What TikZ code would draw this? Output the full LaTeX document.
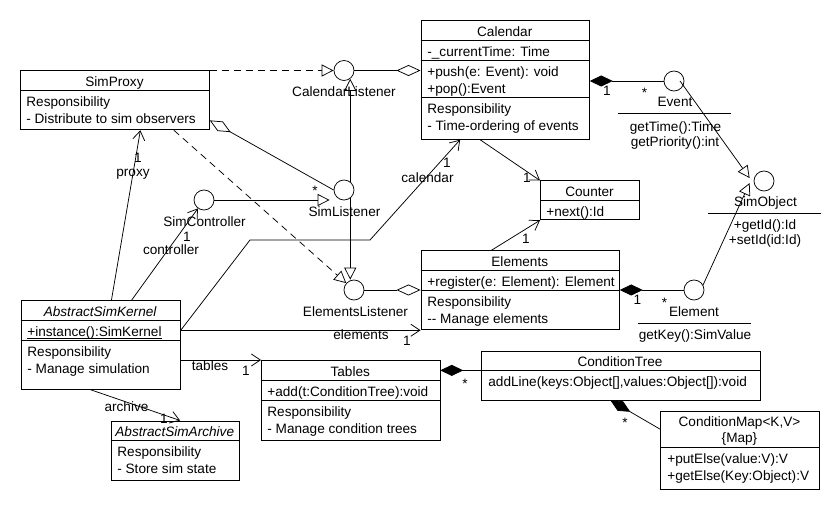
\documentclass[tikz,border=0pt]{standalone}
\usepackage{fontspec}
\setmainfont{Liberation Sans}
\usetikzlibrary{arrows.meta}

\begin{document}
\begin{tikzpicture}[x=1pt, y=-1pt, line width=0.75pt,
    font=\fontsize{13.6}{17}\selectfont,
    clase/.style={draw, rectangle, inner sep=0pt, anchor=north west},
    interfaz/.style={draw, circle, minimum size=20pt, inner sep=0pt},
    txt/.style={inner sep=0pt, anchor=base west},
    tit/.style={inner sep=0pt, anchor=base},
    nav/.style={-{Straight Barb[length=9pt, width=12pt]}},
    gen/.style={-{Triangle[open, length=12pt, width=12pt]}},
    real/.style={gen, dash pattern=on 7pt off 5pt},
    agg/.style={{Diamond[open, length=24pt, width=11pt]}-},
    comp/.style={{Diamond[length=23pt, width=11pt]}-}]
  \useasboundingbox (0,0) rectangle (840,510);
  \fill[white] (0,0) rectangle (840,510);

  % Clases
  \node[clase, minimum width=189pt, minimum height=59pt] (simproxy) at (20,70.5) {};
  \draw (20,90.5) -- (209,90.5);
  \node[tit] (simproxy-t) at (114.5,87) {SimProxy};
  \node[txt] (simproxy-r) at (26,106.5) {Responsibility};
  \node[txt] (simproxy-d) at (26,123.5) {- Distribute to sim observers};

  \node[clase, minimum width=168.5pt, minimum height=118.5pt] (calendar) at (420.5,20.5) {};
  \draw (420.5,40.5) -- (589,40.5) (420.5,60.5) -- (589,60.5) (420.5,97.5) -- (589,97.5);
  \node[tit] (calendar-t) at (504.75,37) {Calendar};
  \node[txt] (calendar-a) at (427,57) {-\_currentTime: Time};
  \node[txt] (calendar-m1) at (427,76.5) {+push(e: Event): void};
  \node[txt] (calendar-m2) at (427,93.5) {+pop():Event};
  \node[txt] (calendar-r) at (427,113.5) {Responsibility};
  \node[txt] (calendar-d) at (427,130.5) {- Time-ordering of events};

  \node[clase, minimum width=99pt, minimum height=39pt] (counter) at (540,180.5) {};
  \draw (540,200.5) -- (639,200.5);
  \node[tit] (counter-t) at (589.5,196.5) {Counter};
  \node[txt] (counter-m) at (546,216.5) {+next():Id};

  \node[clase, minimum width=198.5pt, minimum height=79pt] (elements) at (420.5,250.5) {};
  \draw (420.5,270.5) -- (619,270.5) (420.5,290.5) -- (619,290.5);
  \node[tit] (elements-t) at (519.75,266.5) {Elements};
  \node[txt] (elements-m) at (427,286.5) {+register(e: Element): Element};
  \node[txt] (elements-r) at (427,306.5) {Responsibility};
  \node[txt] (elements-d) at (427,323.5) {-{}- Manage elements};

  \node[clase, minimum width=159.5pt, minimum height=88.5pt] (kernel) at (20.5,300.5) {};
  \draw (20.5,320.5) -- (180,320.5) (20.5,340) -- (180,340);
  \node[tit] (kernel-t) at (100.25,316.5) {\textit{AbstractSimKernel}};
  \node[txt] (kernel-m) at (27,336) {+instance():SimKernel};
  \draw[line width=0.6pt] ([yshift=-2pt]kernel-m.base west) -- ([yshift=-2pt]kernel-m.base east);
  \node[txt] (kernel-r) at (27,356.5) {Responsibility};
  \node[txt] (kernel-d) at (27,373.5) {- Manage simulation};

  \node[clase, minimum width=128.5pt, minimum height=59pt] (archive) at (110.5,420.5) {};
  \draw (110.5,440.5) -- (239,440.5);
  \node[tit] (archive-t) at (174.75,436.5) {\textit{AbstractSimArchive}};
  \node[txt] (archive-r) at (117,456.5) {Responsibility};
  \node[txt] (archive-d) at (117,473.5) {- Store sim state};

  \node[clase, minimum width=178.5pt, minimum height=79.5pt] (tables) at (261,360) {};
  \draw (261,380) -- (439.5,380) (261,400) -- (439.5,400);
  \node[tit] (tables-t) at (350.25,376.5) {Tables};
  \node[txt] (tables-m) at (267,396.5) {+add(t:ConditionTree):void};
  \node[txt] (tables-r) at (267,416) {Responsibility};
  \node[txt] (tables-d) at (267,433.5) {- Manage condition trees};

  \node[clase, minimum width=279pt, minimum height=49pt] (condtree) at (480.5,350.5) {};
  \draw (480.5,370.5) -- (759.5,370.5);
  \node[tit] (condtree-t) at (620,366.5) {ConditionTree};
  \node[txt] (condtree-m) at (488,386.5) {addLine(keys:Object[],values:Object[]):void};

  \node[clase, minimum width=159pt, minimum height=78.5pt] (condmap) at (660,410.5) {};
  \draw (660,447.5) -- (819,447.5);
  \node[tit] (condmap-t) at (739.5,426.5) {ConditionMap<K,V>};
  \node[tit] (condmap-s) at (739.5,442) {\{Map\}};
  \node[txt] (condmap-m1) at (667,463.5) {+putElse(value:V):V};
  \node[txt] (condmap-m2) at (667,480.5) {+getElse(Key:Object):V};

  % Interfaces
  \node[interfaz] (callistener) at (344,70.5) {};
  \node[tit] (callistener-t) at (344,96.5) {CalendarListener};
  \node[interfaz] (simlistener) at (344,190) {};
  \node[tit] (simlistener-t) at (344.5,216.5) {SimListener};
  \node[interfaz] (simcontroller) at (204,200) {};
  \node[tit] (simcontroller-t) at (204.5,226.5) {SimController};
  \node[interfaz] (elemlistener) at (354,290) {};
  \node[tit] (elemlistener-t) at (355.5,316.5) {ElementsListener};

  \node[interfaz] (event) at (674,81) {};
  \node[tit] (event-t) at (675,106.5) {Event};
  \draw (618,113) -- (731,113);
  \node[tit] (event-m1) at (675.5,131.5) {getTime():Time};
  \node[tit] (event-m2) at (675,146.5) {getPriority():int};

  \node[interfaz] (simobject) at (764,181) {};
  \node[tit] (simobject-t) at (765.5,207) {SimObject};
  \draw (708,213) -- (821,213);
  \node[tit] (simobject-m1) at (765,230) {+getId():Id};
  \node[tit] (simobject-m2) at (765,245) {+setId(id:Id)};

  \node[interfaz] (element) at (694,290) {};
  \node[tit] (element-t) at (694,316.5) {Element};
  \draw (638,323) -- (751,323);
  \node[tit] (element-m) at (695,339.5) {getKey():SimValue};

  % Relaciones
  \draw[real] (simproxy.north east) -- (callistener);
  \draw[agg] (calendar.west |- callistener) -- (callistener);
  \draw[gen] (simlistener.53) -- (callistener.-53);
  \draw[gen] (simlistener.-53) -- (simlistener.-53 |- elemlistener.north);
  \draw[agg] ([yshift=-20pt]simproxy.east) -- (simlistener.west);
  \draw[gen, shorten >=4pt] (simcontroller) -- (simcontroller -| simlistener.west);
  \draw[real] ([xshift=59pt]simproxy.south) -- (elemlistener);
  \draw[agg] (elements.west |- elemlistener) -- (elemlistener);
  \draw[nav] ([xshift=10.75pt]kernel.north) -- ([xshift=25.5pt]simproxy.south);
  \draw[nav] ([xshift=30.75pt]kernel.north) -- (simcontroller);
  \draw[nav] (kernel.east |- elements.south west) -- (250,240) -- (370,240)
    -- ([xshift=-45pt]calendar.south);
  \draw[nav] (kernel.east |- elements.south west) -- (elements.south west);
  \draw[nav] (kernel.east |- tables.north west) -- (tables.north west);
  \draw[nav] ([xshift=-10pt]kernel.south) -- ([xshift=5pt]archive.north);
  \draw[nav] ([xshift=-25pt]calendar.south) -- (counter.north west);
  \draw[nav] ([xshift=-29pt]elements.north) -- (counter.south west);
  \draw[comp] (calendar.east |- event) -- (event);
  \draw[comp] (elements.east |- element) -- (element);
  \draw[gen] ([xshift=6pt]event.center) -- ([xshift=-4pt, yshift=3pt]simobject.west);
  \draw[gen] (element.29) -- ([xshift=-4pt, yshift=-2pt]simobject.west);
  \coordinate (ctin) at ([yshift=5pt]condtree.west);
  \draw[comp] (tables.east |- ctin) -- (ctin);
  \draw[comp] ([xshift=-10pt]condtree.south) -- ([yshift=21pt]condmap.west);

  % Multiplicidades y roles
  \node[tit] (proxy-n) at (138,163) {1};
  \node[tit] (proxy-l) at (133,177) {proxy};
  \node[tit] (ctrl-n) at (187,241.5) {1};
  \node[tit] (ctrl-l) at (171,254.5) {controller};
  \node[tit] (cal-n) at (447,168) {1};
  \node[tit] (cal-l) at (427.5,183) {calendar};
  \node[tit] (elem-n) at (407,345) {1};
  \node[tit] (elem-l) at (361,339) {elements};
  \node[tit] (tab-n) at (246,375) {1};
  \node[tit] (tab-l) at (210,370) {tables};
  \node[tit] (arch-n) at (164,423.5) {1};
  \node[tit] (arch-l) at (126.5,411.5) {archive};
  \node[tit] (cnt-n1) at (527,183) {1};
  \node[tit] (cnt-n2) at (526,244) {1};
  \node[tit] (ev-n) at (607,95.5) {1};
  \node[tit] (ev-m) at (644.5,98) {*};
  \node[tit] (el-n) at (637.5,305) {1};
  \node[tit] (el-m) at (664.5,308) {*};
  \node[tit] (sl-m) at (315,196) {*};
  \node[tit] (ct-m) at (465,388) {*};
  \node[tit] (cm-m) at (625,427) {*};
\end{tikzpicture}
\end{document}
